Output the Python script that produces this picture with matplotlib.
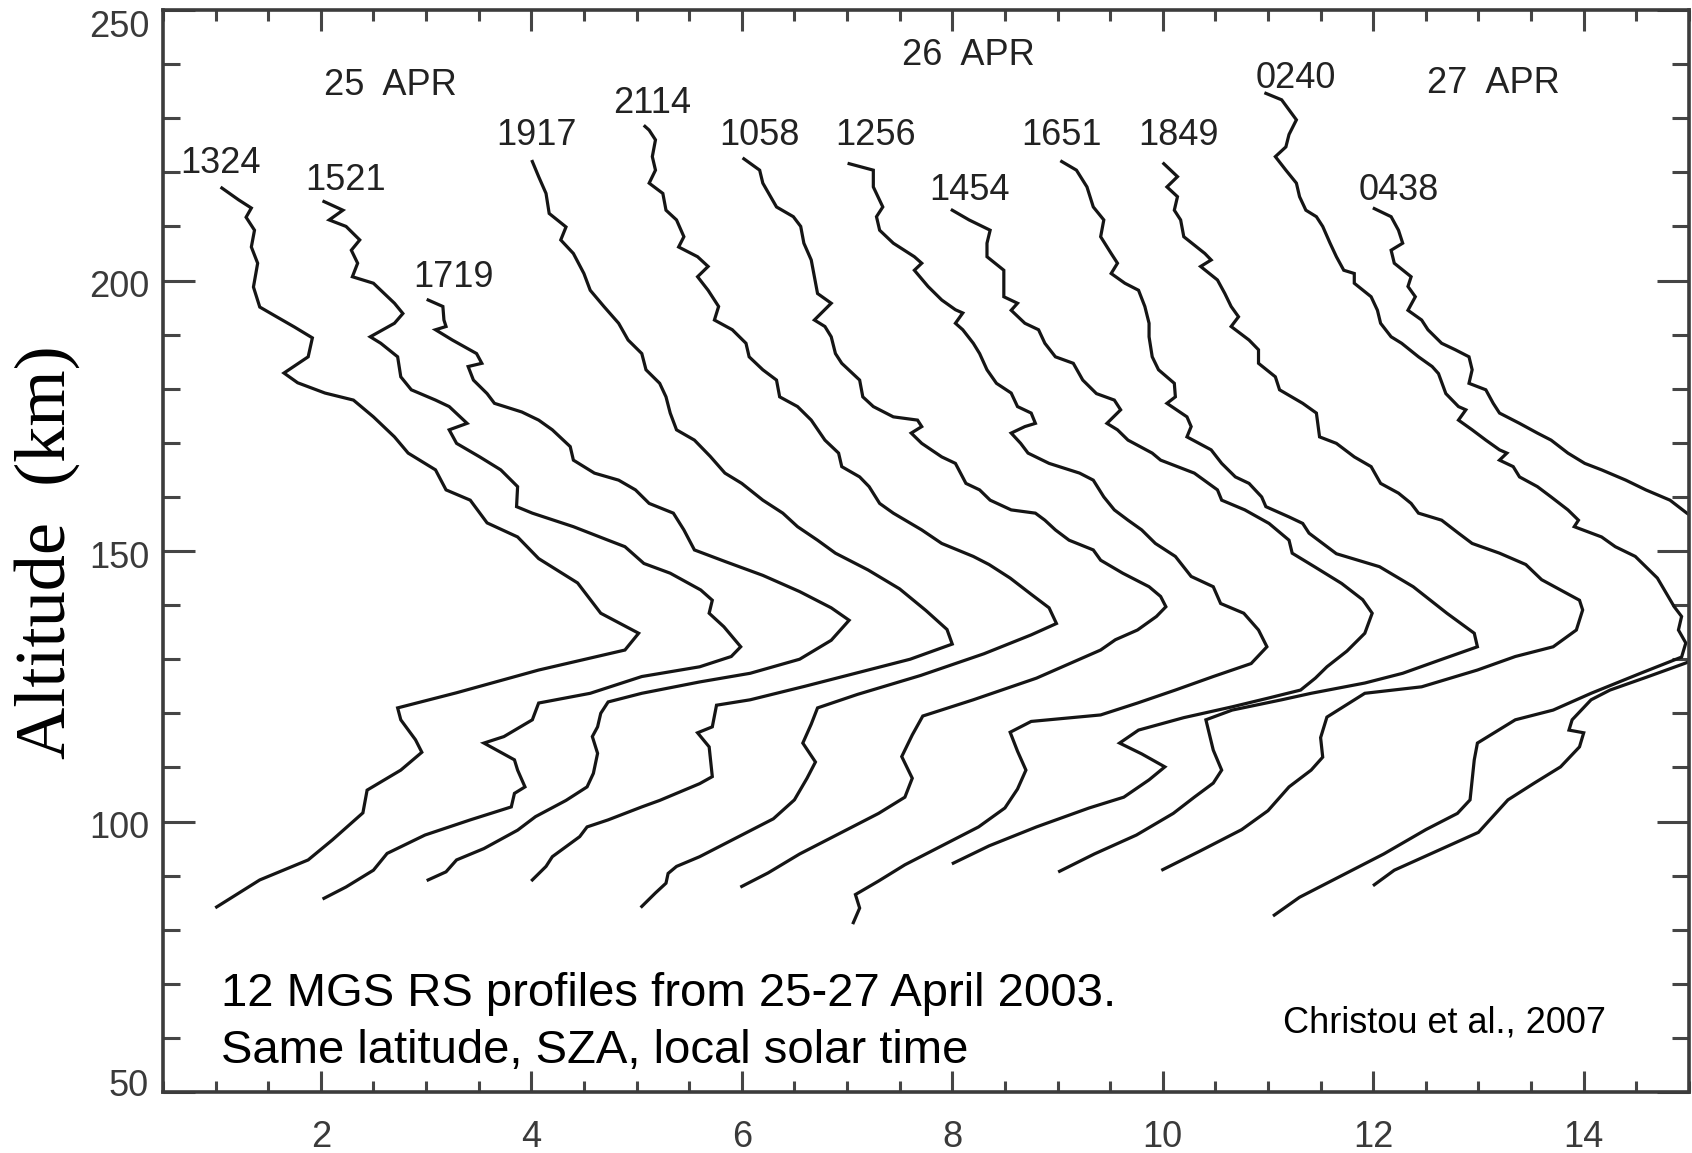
import matplotlib.pyplot as plt
from matplotlib.ticker import MultipleLocator
from matplotlib.transforms import ScaledTranslation

# Electron density profiles, each shifted right by one unit per orbit.
# x = density + offset, alt = altitude in km (bottom to top of each profile)
x_1324 = [1.01, 1.42, 1.88, 2.11, 2.40, 2.44, 2.76, 2.96, 2.90, 2.76, 2.73, 3.29, 4.07, 4.89, 5.02,
          4.66, 4.44, 4.07, 3.87, 3.58, 3.42, 3.19, 3.09, 2.83, 2.70, 2.50, 2.31, 2.04, 1.78, 1.65,
          1.88, 1.92, 1.75, 1.58, 1.42, 1.36, 1.40, 1.34, 1.37, 1.29, 1.34, 1.22, 1.06]
alt_1324 = [84.2, 89.2, 92.9, 96.6, 101.6, 105.8, 109.5, 112.8, 115.1, 118.8, 121.0, 123.8, 128.0, 131.7, 134.8,
            138.5, 144.1, 148.6, 152.6, 155.2, 159.4, 161.3, 165.0, 168.1, 171.1, 174.8, 177.9, 179.2, 181.1, 182.9,
            185.9, 189.4, 191.4, 193.3, 195.1, 198.8, 203.2, 206.2, 209.3, 211.7, 213.4, 214.9, 217.1]

x_1521 = [2.03, 2.24, 2.50, 2.63, 2.99, 3.42, 3.81, 3.84, 3.94, 3.87, 3.84, 3.55, 3.74, 4.01, 4.07, 4.56,
          5.05, 5.60, 5.90, 5.99, 5.83, 5.69, 5.72, 5.61, 5.32, 5.07, 4.89, 4.73, 4.40, 4.01, 3.86, 3.87,
          3.71, 3.51, 3.29, 3.22, 3.39, 3.22, 3.09, 2.86, 2.76, 2.73, 2.57, 2.47, 2.70, 2.78, 2.70, 2.50,
          2.30, 2.35, 2.29, 2.37, 2.24, 2.08, 2.21, 2.03]
alt_1521 = [85.8, 87.9, 91.0, 94.1, 97.5, 100.3, 102.7, 105.2, 106.4, 109.5, 111.4, 114.5, 115.7, 118.8, 121.9, 123.7,
            126.8, 128.6, 130.5, 132.3, 136.0, 138.5, 140.9, 142.8, 145.9, 147.7, 150.8, 152.0, 154.5, 157.0, 158.2, 161.9,
            165.0, 167.4, 169.9, 172.4, 173.6, 176.7, 177.9, 179.8, 182.2, 185.9, 188.4, 189.6, 192.1, 193.9, 195.8, 199.5,
            200.7, 203.2, 205.6, 207.5, 210.0, 211.2, 213.0, 214.6]

x_1719 = [3.02, 3.19, 3.29, 3.55, 3.87, 4.04, 4.33, 4.53, 4.59, 4.63, 4.58, 4.63, 4.66, 4.73, 5.05, 5.60,
          6.08, 6.55, 6.85, 7.02, 6.85, 6.55, 6.20, 5.85, 5.55, 5.45, 5.35, 5.12, 4.99, 4.83, 4.60, 4.40,
          4.37, 4.20, 4.07, 3.91, 3.65, 3.58, 3.45, 3.40, 3.53, 3.48, 3.25, 3.09, 3.19, 3.17, 3.16, 3.02]
alt_1719 = [89.2, 90.7, 92.9, 95.0, 98.4, 100.9, 103.9, 106.4, 108.9, 112.6, 115.7, 117.5, 120.0, 122.1, 123.7, 125.8,
            127.4, 130.0, 133.5, 137.2, 139.5, 142.5, 145.5, 148.0, 150.2, 153.9, 157.0, 158.8, 161.3, 163.1, 164.4, 166.8,
            169.3, 172.4, 174.2, 175.7, 177.3, 179.1, 181.6, 184.1, 184.7, 186.5, 189.0, 190.9, 191.5, 192.7, 195.2, 196.4]

x_1917 = [4.01, 4.14, 4.20, 4.46, 4.53, 4.73, 5.05, 5.22, 5.60, 5.72, 5.69, 5.58, 5.72, 5.76, 6.08, 6.60,
          7.10, 7.60, 8.00, 7.95, 7.75, 7.50, 7.20, 6.89, 6.72, 6.53, 6.39, 6.20, 6.00, 5.84, 5.70, 5.55,
          5.38, 5.32, 5.28, 5.22, 5.09, 5.05, 4.92, 4.83, 4.69, 4.56, 4.50, 4.40, 4.28, 4.33, 4.17, 4.14,
          4.07, 4.01]
alt_1917 = [89.2, 91.7, 93.5, 97.2, 99.0, 100.3, 102.7, 103.9, 107.0, 108.3, 113.8, 116.4, 117.5, 121.5, 122.5, 125.0,
            127.5, 130.0, 132.8, 135.5, 139.0, 143.0, 146.5, 149.6, 152.0, 154.5, 157.0, 159.4, 162.5, 164.4, 167.5, 170.5,
            172.4, 175.5, 178.5, 181.0, 183.5, 186.5, 189.0, 192.1, 195.2, 198.2, 201.3, 205.0, 207.5, 209.9, 212.4, 216.1,
            219.2, 222.0]

x_2114 = [5.05, 5.18, 5.28, 5.30, 5.38, 5.60, 5.95, 6.30, 6.50, 6.62, 6.70, 6.58, 6.66, 6.72, 7.10, 7.70,
          8.30, 8.75, 8.99, 8.92, 8.75, 8.55, 8.35, 8.20, 7.90, 7.71, 7.44, 7.31, 7.21, 7.12, 6.95, 6.92,
          6.79, 6.66, 6.53, 6.36, 6.33, 6.20, 6.07, 6.04, 5.91, 5.74, 5.78, 5.68, 5.58, 5.68, 5.58, 5.40,
          5.45, 5.38, 5.28, 5.25, 5.12, 5.18, 5.15, 5.18, 5.12, 5.08]
alt_2114 = [84.3, 86.8, 88.6, 90.4, 91.7, 93.5, 97.0, 100.5, 104.0, 108.0, 111.0, 114.5, 118.0, 121.0, 123.5, 127.0,
            131.0, 134.5, 136.6, 139.5, 142.0, 145.0, 147.5, 149.0, 151.4, 153.9, 157.0, 158.8, 161.9, 163.7, 165.6, 168.1,
            170.5, 174.2, 176.7, 178.5, 181.6, 183.5, 185.9, 188.4, 190.9, 192.7, 195.2, 198.2, 200.7, 202.6, 204.4, 206.2,
            208.1, 211.2, 213.0, 216.1, 218.0, 220.4, 222.9, 226.0, 227.8, 228.5]

x_1058 = [6.00, 6.25, 6.55, 6.95, 7.30, 7.55, 7.62, 7.52, 7.62, 7.72, 8.20, 8.80, 9.41, 9.55, 9.76, 9.94,
          10.03, 9.98, 9.87, 9.62, 9.41, 9.34, 9.11, 8.98, 8.88, 8.79, 8.56, 8.36, 8.26, 8.13, 8.03, 7.90,
          7.71, 7.61, 7.71, 7.67, 7.44, 7.25, 7.15, 7.12, 6.95, 6.89, 6.85, 6.79, 6.69, 6.85, 6.72, 6.69,
          6.66, 6.59, 6.56, 6.49, 6.33, 6.20, 6.17, 6.02]
alt_1058 = [88.0, 90.5, 94.0, 98.0, 101.5, 104.5, 108.0, 112.0, 116.0, 119.5, 122.5, 126.5, 131.7, 133.6, 135.4, 137.9,
            139.7, 141.6, 143.4, 145.9, 148.3, 150.2, 152.0, 153.9, 155.7, 157.0, 157.6, 159.4, 161.3, 162.5, 166.2, 167.4,
            169.9, 171.8, 173.0, 174.2, 174.8, 176.7, 178.5, 181.6, 184.7, 186.5, 189.6, 191.5, 192.7, 195.8, 197.6, 200.7,
            203.8, 206.9, 210.0, 211.8, 213.6, 218.0, 220.4, 222.5]

x_1256 = [7.06, 7.12, 7.08, 7.30, 7.55, 7.90, 8.25, 8.50, 8.62, 8.70, 8.62, 8.55, 8.75, 9.41, 9.76, 10.12,
          10.48, 10.84, 10.99, 10.91, 10.77, 10.55, 10.48, 10.27, 10.12, 9.93, 9.80, 9.67, 9.54, 9.44, 9.34, 9.21,
          8.92, 8.72, 8.65, 8.56, 8.69, 8.79, 8.75, 8.62, 8.56, 8.42, 8.33, 8.26, 8.20, 8.10, 8.03, 8.10,
          8.03, 7.90, 7.77, 7.64, 7.71, 7.64, 7.44, 7.31, 7.28, 7.34, 7.25, 7.25, 7.02]
alt_1256 = [81.3, 84.0, 86.5, 89.0, 92.0, 95.5, 99.0, 102.5, 106.0, 109.5, 113.0, 116.5, 118.5, 119.7, 121.9, 124.3,
            126.8, 129.2, 132.3, 135.4, 138.5, 140.3, 143.4, 145.3, 149.0, 151.4, 153.9, 155.7, 157.6, 160.0, 163.1, 164.4,
            166.2, 168.1, 169.9, 171.8, 173.0, 173.6, 175.5, 176.7, 179.2, 181.0, 183.5, 186.5, 188.4, 190.9, 192.1, 194.0,
            194.6, 196.4, 198.9, 201.9, 203.2, 204.4, 206.9, 209.3, 211.8, 213.6, 217.3, 220.4, 221.6]

x_1454 = [8.01, 8.35, 8.80, 9.30, 9.63, 9.87, 10.02, 9.80, 9.59, 9.77, 10.20, 10.66, 11.00, 11.31, 11.45, 11.56,
          11.75, 11.92, 11.99, 11.90, 11.70, 11.45, 11.23, 11.20, 11.01, 10.78, 10.56, 10.52, 10.30, 9.98, 9.90, 9.67,
          9.57, 9.47, 9.60, 9.54, 9.37, 9.24, 9.15, 8.98, 8.88, 8.82, 8.69, 8.56, 8.62, 8.49, 8.49, 8.49,
          8.33, 8.33, 8.36, 8.16, 8.00]
alt_1454 = [92.3, 95.5, 99.0, 102.5, 104.5, 107.7, 110.1, 112.5, 114.5, 116.9, 119.2, 121.2, 122.8, 124.3, 126.5, 128.6,
            131.5, 134.8, 138.5, 141.0, 144.0, 147.0, 149.6, 152.0, 155.1, 157.6, 159.4, 161.3, 164.4, 166.8, 168.1, 170.5,
            172.4, 173.6, 176.1, 177.9, 179.1, 181.6, 184.7, 185.9, 188.4, 190.9, 192.1, 194.5, 195.8, 197.0, 199.5, 201.9,
            204.4, 206.9, 209.3, 211.2, 213.0]

x_1651 = [9.02, 9.35, 9.75, 10.10, 10.30, 10.48, 10.56, 10.48, 10.41, 10.66, 11.13, 11.41, 11.92, 12.28, 12.64, 12.99,
          12.96, 12.70, 12.38, 12.06, 11.65, 11.52, 11.39, 11.33, 11.20, 10.98, 10.94, 10.82, 10.69, 10.56, 10.46, 10.23,
          10.27, 10.23, 10.04, 10.12, 10.11, 9.96, 9.90, 9.87, 9.87, 9.83, 9.77, 9.64, 9.51, 9.57, 9.51, 9.41,
          9.44, 9.34, 9.28, 9.18, 9.04]
alt_1651 = [90.8, 94.0, 97.5, 101.5, 104.5, 107.1, 109.5, 113.2, 118.8, 120.6, 122.5, 123.7, 125.6, 127.4, 129.9, 132.3,
            134.8, 138.5, 143.4, 147.1, 149.5, 151.4, 153.3, 155.1, 156.3, 158.2, 160.0, 162.5, 163.7, 166.2, 168.7, 171.1,
            173.0, 174.8, 177.3, 178.5, 181.0, 183.5, 185.9, 189.6, 192.1, 195.2, 198.2, 199.5, 201.3, 203.2, 205.0, 208.1,
            211.2, 213.6, 217.3, 220.4, 222.0]

x_1849 = [10.00, 10.35, 10.75, 11.00, 11.20, 11.41, 11.52, 11.50, 11.56, 11.92, 12.46, 12.99, 13.35, 13.71, 13.93, 13.99,
          13.96, 13.78, 13.60, 13.45, 13.20, 12.94, 12.81, 12.65, 12.43, 12.36, 12.24, 12.07, 11.98, 11.82, 11.65, 11.49,
          11.46, 11.33, 11.11, 11.07, 10.91, 10.91, 10.82, 10.65, 10.72, 10.65, 10.59, 10.52, 10.36, 10.46, 10.40, 10.20,
          10.17, 10.11, 10.14, 10.04, 10.14, 10.01]
alt_1849 = [91.1, 94.5, 98.5, 102.0, 106.4, 109.5, 111.9, 115.5, 119.3, 123.7, 124.9, 128.0, 130.5, 132.3, 135.4, 139.1,
            140.9, 142.8, 144.7, 147.5, 149.6, 151.4, 153.3, 155.7, 157.0, 158.8, 160.7, 162.5, 165.6, 167.4, 169.9, 171.1,
            175.5, 177.3, 179.8, 182.2, 184.7, 187.2, 189.0, 191.5, 193.3, 195.2, 197.6, 200.1, 202.6, 203.8, 205.0, 208.1,
            211.2, 213.0, 215.5, 217.3, 219.2, 221.6]

x_0240 = [11.06, 11.30, 11.70, 12.10, 12.50, 12.80, 12.92, 12.96, 12.99, 13.35, 13.71, 14.07, 14.54, 14.93, 14.97, 14.90,
          14.93, 14.86, 14.70, 14.49, 14.30, 14.17, 13.91, 13.95, 13.85, 13.69, 13.56, 13.39, 13.33, 13.20, 13.27, 13.20,
          13.07, 12.94, 12.81, 12.88, 12.81, 12.69, 12.62, 12.56, 12.43, 12.27, 12.17, 12.07, 12.04, 11.98, 11.82, 11.82,
          11.72, 11.65, 11.59, 11.52, 11.46, 11.36, 11.30, 11.27, 11.17, 11.07, 11.17, 11.20, 11.27, 11.13, 10.98]
alt_0240 = [82.7, 86.0, 90.0, 94.0, 98.5, 101.5, 104.0, 111.4, 114.5, 118.8, 120.6, 123.7, 127.4, 130.4, 133.0, 135.4,
            137.9, 139.7, 145.0, 149.0, 150.8, 152.6, 154.5, 155.7, 157.6, 160.0, 161.9, 163.7, 165.6, 166.8, 168.1, 168.7,
            170.5, 172.4, 174.2, 176.1, 176.7, 179.1, 182.8, 184.1, 185.9, 188.4, 189.6, 192.1, 194.5, 197.0, 199.5, 201.3,
            201.9, 204.4, 206.9, 210.0, 211.8, 213.0, 215.5, 218.0, 220.4, 222.9, 224.7, 227.0, 229.7, 233.4, 234.6]

x_0438 = [12.01, 12.20, 12.60, 13.00, 13.28, 13.53, 13.78, 13.96, 14.00, 13.86, 13.89, 14.07, 14.25, 14.60, 14.97, 15.40,
          15.60, 15.50, 15.30, 15.10, 14.98, 14.82, 14.59, 14.40, 14.17, 14.01, 13.85, 13.69, 13.56, 13.39, 13.20, 13.14,
          13.07, 12.91, 12.94, 12.91, 12.78, 12.65, 12.52, 12.46, 12.33, 12.40, 12.33, 12.36, 12.20, 12.17, 12.28, 12.24,
          12.17, 12.01]
alt_0438 = [88.3, 91.0, 94.5, 98.0, 104.0, 107.1, 110.1, 113.8, 116.4, 116.9, 118.8, 122.5, 124.3, 126.7, 129.3, 133.0,
            138.0, 146.0, 152.0, 155.5, 157.0, 159.4, 161.3, 163.1, 165.0, 166.2, 168.1, 170.5, 171.8, 173.6, 175.5, 177.3,
            179.8, 181.0, 183.5, 185.9, 187.2, 188.4, 190.9, 192.7, 194.5, 197.0, 198.9, 200.7, 203.2, 205.6, 206.9, 209.3,
            211.8, 213.3]

# orbit time labels: text, x centre, baseline altitude
orbit_labels = ["1324", "1521", "1719", "1917", "2114", "1058", "1256", "1454", "1651", "1849", "0240", "0438"]
orbit_label_x = [1.05, 2.24, 3.26, 4.05, 5.15, 6.17, 7.27, 8.16, 9.04, 10.15, 11.26, 12.24]
orbit_label_alt = [219.9, 216.7, 198.8, 225.0, 231.0, 225.0, 225.0, 214.9, 225.0, 225.0, 235.6, 214.9]

day_labels = ["25  APR", "26  APR", "27  APR"]
day_label_x = [2.66, 8.15, 13.14]
day_label_alt = [234.3, 239.8, 234.7]

profiles = [(x_1324, alt_1324), (x_1521, alt_1521), (x_1719, alt_1719), (x_1917, alt_1917),
            (x_2114, alt_2114), (x_1058, alt_1058), (x_1256, alt_1256), (x_1454, alt_1454),
            (x_1651, alt_1651), (x_1849, alt_1849), (x_0240, alt_0240), (x_0438, alt_0438)]

fig = plt.figure(figsize=(16.92, 11.53), dpi=100)
ax = fig.add_axes([0.0963, 0.0529, 0.9019, 0.9384])

for xs, alts in profiles:
    ax.plot(xs, alts, color='#151515', lw=2.3, solid_joinstyle='miter')

ax.set_xlim(0.5, 15)
ax.set_ylim(50, 250)
ax.xaxis.set_major_locator(MultipleLocator(2))
ax.xaxis.set_minor_locator(MultipleLocator(0.5))
ax.yaxis.set_major_locator(MultipleLocator(50))
ax.yaxis.set_minor_locator(MultipleLocator(10))

ax.tick_params(which='both', direction='in', top=True, right=True,
               color='#454545', width=2.2, labelsize=26, labelcolor='#3a3a3a')
ax.tick_params(axis='x', which='major', length=15, pad=20)
ax.tick_params(axis='x', which='minor', length=8)
ax.tick_params(axis='y', which='major', length=23, pad=10)
ax.tick_params(axis='y', which='minor', length=12)
for lab in ax.get_xticklabels() + ax.get_yticklabels():
    lab.set_family('Liberation Sans')

for sp in ax.spines.values():
    sp.set_linewidth(2.6)
    sp.set_color('#3c3c3c')

for txt, tx, ty in zip(orbit_labels, orbit_label_x, orbit_label_alt):
    ax.text(tx, ty, txt, ha='center', va='baseline', fontsize=26,
            family='Liberation Sans', color='#222222')
for txt, tx, ty in zip(day_labels, day_label_x, day_label_alt):
    ax.text(tx, ty, txt, ha='center', va='baseline', fontsize=26,
            family='Liberation Sans', color='#222222')

ax.text(1.05, 65.9, "12 MGS RS profiles from 25-27 April 2003.", ha='left', va='baseline',
        fontsize=34, family='Liberation Sans', color='black')
ax.text(1.05, 55.4, "Same latitude, SZA, local solar time", ha='left', va='baseline',
        fontsize=34, family='Liberation Sans', color='black')
ax.text(11.14, 62.8, "Christou et al., 2007", ha='left', va='center',
        fontsize=26, family='Liberation Sans', color='black')

fig.text(0.028, 0.521, "Altitude  (km)", rotation=90, ha='center', va='center',
         fontsize=52, family='Liberation Serif', color='black')

# keep the end labels of the altitude axis inside the frame
fig.canvas.draw()
for tick in ax.yaxis.get_major_ticks():
    loc = tick.get_loc()
    if abs(loc - 250) < 1e-6:
        dy = -13
    elif abs(loc - 50) < 1e-6:
        dy = 10
    else:
        dy = -3
    lab = tick.label1
    lab.set_transform(lab.get_transform() + ScaledTranslation(0, dy / 100, fig.dpi_scale_trans))

fig.savefig('out.png', dpi=100)
